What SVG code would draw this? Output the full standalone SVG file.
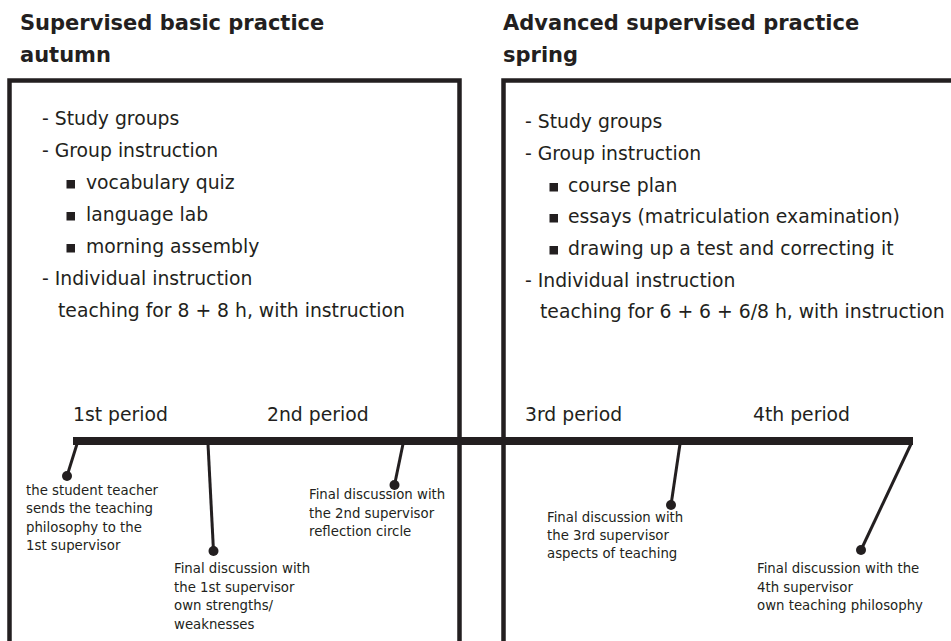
<svg xmlns="http://www.w3.org/2000/svg" width="951" height="641" viewBox="0 0 951 641">
<style>
.h{font-family:"DejaVu Sans",Verdana,sans-serif;font-weight:bold;font-size:21px;fill:#231f20}
.t{font-family:"DejaVu Sans",Verdana,sans-serif;font-size:18.8px;fill:#231f20}
.s{font-family:"DejaVu Sans",Verdana,sans-serif;font-size:13.3px;fill:#231f20}
.box{fill:none;stroke:#231f20;stroke-width:4.5}
.c{stroke:#231f20;stroke-width:3;fill:none}
.d{fill:#231f20}
.b{fill:#231f20}
</style>
<rect width="951" height="641" fill="#fff"/>
<g id="autumn">
<text class="h" x="20" y="30">Supervised basic practice</text>
<text class="h" x="20" y="62">autumn</text>
<path class="box" d="M9.5,645 V80.5 H459.5 V645"/>
<text class="t" x="42" y="125">- Study groups</text>
<text class="t" x="42" y="157">- Group instruction</text>
<rect class="b" x="66.5" y="180" width="8.5" height="8.5"/>
<text class="t" x="86" y="189">vocabulary quiz</text>
<rect class="b" x="66.5" y="212" width="8.5" height="8.5"/>
<text class="t" x="86" y="221">language lab</text>
<rect class="b" x="66.5" y="244" width="8.5" height="8.5"/>
<text class="t" x="86" y="253">morning assembly</text>
<text class="t" x="42" y="285">- Individual instruction</text>
<text class="t" x="58" y="317">teaching for 8 + 8 h, with instruction</text>
<text class="t" x="73" y="421">1st period</text>
<text class="t" x="267" y="421">2nd period</text>
</g>
<g id="spring">
<text class="h" x="503" y="30">Advanced supervised practice</text>
<text class="h" x="503" y="62">spring</text>
<path class="box" d="M503.5,645 V80.5 H955"/>
<text class="t" x="525" y="128">- Study groups</text>
<text class="t" x="525" y="160">- Group instruction</text>
<rect class="b" x="549.5" y="183" width="8.5" height="8.5"/>
<text class="t" x="568" y="192">course plan</text>
<rect class="b" x="549.5" y="214" width="8.5" height="8.5"/>
<text class="t" x="568" y="223">essays (matriculation examination)</text>
<rect class="b" x="549.5" y="246" width="8.5" height="8.5"/>
<text class="t" x="568" y="255">drawing up a test and correcting it</text>
<text class="t" x="525" y="287">- Individual instruction</text>
<text class="t" x="540" y="318">teaching for 6 + 6 + 6/8 h, with instruction</text>
<text class="t" x="525" y="421">3rd period</text>
<text class="t" x="753" y="421">4th period</text>
</g>
<g id="connectors">
<line x1="73" y1="441" x2="913" y2="441" stroke="#231f20" stroke-width="8"/>
<line class="c" x1="77" y1="444" x2="67" y2="476"/>
<circle class="d" cx="67" cy="476" r="5"/>
<line class="c" x1="208" y1="444" x2="213.5" y2="551"/>
<circle class="d" cx="213.5" cy="551" r="5"/>
<line class="c" x1="403" y1="444" x2="394.5" y2="485"/>
<circle class="d" cx="394.5" cy="485" r="5"/>
<line class="c" x1="680" y1="444" x2="671" y2="505"/>
<circle class="d" cx="671" cy="505" r="5"/>
<line class="c" x1="911" y1="444" x2="861" y2="550"/>
<circle class="d" cx="861" cy="550" r="5"/>
</g>
<g id="note1">
<text class="s" x="26" y="495">the student teacher</text>
<text class="s" x="26" y="513">sends the teaching</text>
<text class="s" x="26" y="532">philosophy to the</text>
<text class="s" x="26" y="550">1st supervisor</text>
</g>
<g id="note2">
<text class="s" x="174" y="573">Final discussion with</text>
<text class="s" x="174" y="592">the 1st supervisor</text>
<text class="s" x="174" y="610">own strengths/</text>
<text class="s" x="174" y="629">weaknesses</text>
</g>
<g id="note3">
<text class="s" x="309" y="499">Final discussion with</text>
<text class="s" x="309" y="518">the 2nd supervisor</text>
<text class="s" x="309" y="536">reflection circle</text>
</g>
<g id="note4">
<text class="s" x="547" y="522">Final discussion with</text>
<text class="s" x="547" y="540">the 3rd supervisor</text>
<text class="s" x="547" y="558">aspects of teaching</text>
</g>
<g id="note5">
<text class="s" x="757" y="573">Final discussion with the</text>
<text class="s" x="757" y="592">4th supervisor</text>
<text class="s" x="757" y="610">own teaching philosophy</text>
</g>
</svg>
